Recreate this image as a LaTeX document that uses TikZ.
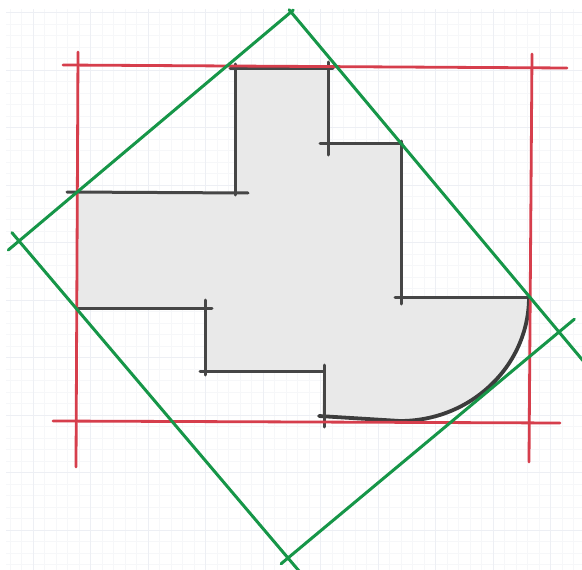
\documentclass[tikz,border=0pt]{standalone}
\usetikzlibrary{calc}
\definecolor{gridminor}{RGB}{246,247,249}
\definecolor{gridmajor}{RGB}{237,239,244}
\definecolor{shapefill}{RGB}{233,233,233}
\definecolor{shapeline}{RGB}{70,70,70}
\definecolor{redline}{RGB}{214,62,76}
\definecolor{greenline}{RGB}{22,150,72}
\tikzset{
  minorgrid/.style={draw=gridminor, line width=0.8pt},
  majorgrid/.style={draw=gridmajor, line width=1pt},
  edge/.style={draw=shapeline, line width=3pt, line cap=round},
  curveedge/.style={draw=shapeline!85!black, line width=3.8pt, line cap=round, line join=round},
  redstroke/.style={draw=redline, line width=2.8pt, line cap=round},
  greenstroke/.style={draw=greenline, line width=3pt, line cap=round},
}
\begin{document}
\begin{tikzpicture}[x=1pt,y=-1pt]
\clip (0,0) rectangle (582,570);
\fill[white] (0,0) rectangle (582,570);
% grid
\begin{scope}
\clip (6,9) rectangle (582,570);
\foreach \i in {0,...,53} { \draw[minorgrid] ({-24.5+11.5*\i},9) -- ({-24.5+11.5*\i},570); }
\foreach \j in {0,...,49} { \draw[minorgrid] (6,{1+11.5*\j}) -- (582,{1+11.5*\j}); }
\foreach \i in {-1,...,10} { \draw[majorgrid] ({33+57.5*\i},9) -- ({33+57.5*\i},570); }
\foreach \j in {0,...,9} { \draw[majorgrid] (6,{12.5+57.5*\j}) -- (582,{12.5+57.5*\j}); }
\end{scope}
% shape fill
\fill[shapefill] (235,68) -- (330,68) -- (330,143) -- (401,143) -- (401,297) -- (529,297)
  arc[start angle=0, end angle=90, x radius=129, y radius=124]
  -- (322,417) -- (323,371) -- (205,371) -- (205,308) -- (78,308) -- (78,192) -- (235,192) -- cycle;
% shape outline strokes
\draw[edge] (230,68) -- (333,68);
\draw[edge] (235,64) -- (235,195);
\draw[edge] (328,62) -- (328,155);
\draw[edge] (320,143) -- (402,143);
\draw[edge] (401,141) -- (401,304);
\draw[edge] (395,297) -- (529,297);
\draw[curveedge] (529,297) arc[start angle=0, end angle=90, x radius=129, y radius=124] -- (319,416);
\draw[edge] (324,365) -- (324,427);
\draw[edge] (200,371) -- (323,371);
\draw[edge] (205,300) -- (205,375);
\draw[edge] (76,308) -- (212,308);
\draw[edge] (67,192) -- (248,193);
% red frame
\draw[redstroke] (63,65) -- (567,68);
\draw[redstroke] (78,52) -- (76,467);
\draw[redstroke] (53,421) -- (560,423);
\draw[redstroke] (532,54) -- (529,462);
% green rotated rectangle
\coordinate (T) at (291,12);
\coordinate (R) at (559,332);
\coordinate (B) at (288,558);
\coordinate (L) at (19,241);
\draw[greenstroke] ($(T)!-3pt!(L)$) -- ($(L)!-14pt!(T)$);
\draw[greenstroke] ($(T)!-3pt!(R)$) -- ($(R)!-40pt!(T)$);
\draw[greenstroke] ($(L)!-11pt!(B)$) -- ($(B)!-20pt!(L)$);
\draw[greenstroke] ($(B)!-9pt!(R)$) -- ($(R)!-20pt!(B)$);
\end{tikzpicture}
\end{document}
